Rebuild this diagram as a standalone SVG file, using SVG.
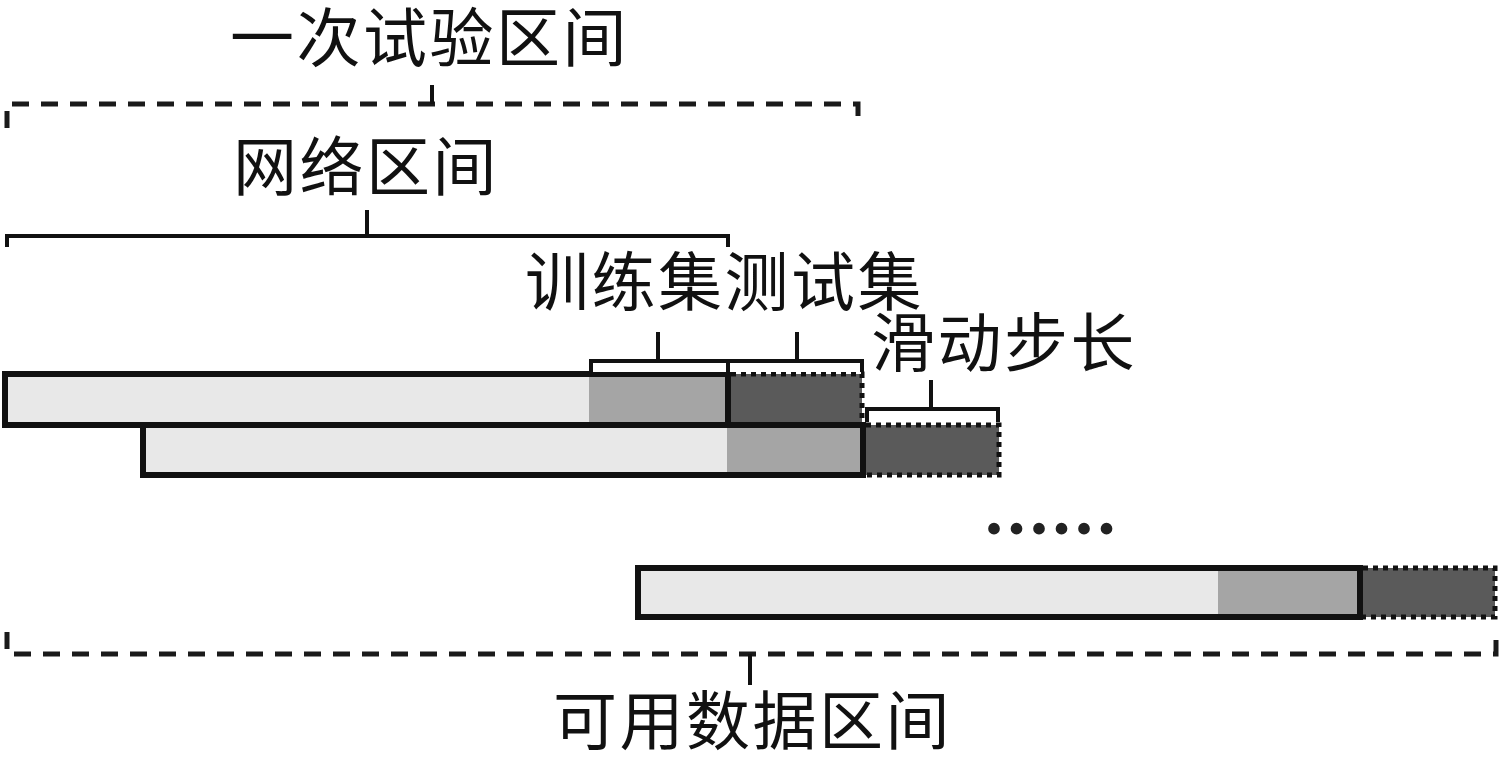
<svg xmlns="http://www.w3.org/2000/svg" width="1499" height="757" viewBox="0 0 1499 757">
<style>
.lbl{font-family:"Noto Sans CJK SC","Noto Sans",sans-serif;font-size:64px;fill:#111;letter-spacing:2.5px}
.light{fill:#e8e8e8}
.mid{fill:#a5a5a5}
.dark{fill:#5a5a5a}
.solid{fill:none;stroke:#111;stroke-width:6}
.dotted{fill:none;stroke:#111;stroke-width:5;stroke-dasharray:5 5}
.br{fill:none;stroke:#111;stroke-width:4}
.dash{fill:none;stroke:#1a1a1a;stroke-width:5;stroke-dasharray:17 12}
</style>
<rect width="1499" height="757" fill="#fff"/>
<g id="labels">
<text id="t-trial" class="lbl" x="230" y="61">一次试验区间</text>
<text id="t-net" class="lbl" x="233" y="190">网络区间</text>
<text id="t-traintest" class="lbl" x="525" y="305">训练集测试集</text>
<text id="t-step" class="lbl" x="871" y="366">滑动步长</text>
<text id="t-avail" class="lbl" x="553" y="744">可用数据区间</text>
</g>
<g id="bar1">
<rect class="light" x="5" y="374" width="584" height="51"/>
<rect class="mid" x="589" y="374" width="139" height="51"/>
<rect class="dark" x="728" y="374" width="134" height="51"/>
<path class="solid" d="M731,374 H5 V425 H862 M728,374 V425"/>
<path class="dotted" d="M731,374 H862 V425"/>
</g>
<g id="bar2">
<rect class="light" x="143" y="428" width="584" height="47"/>
<rect class="mid" x="727" y="428" width="136" height="47"/>
<rect class="solid" x="143" y="425" width="720" height="50"/>
</g>
<g id="step-box">
<rect class="dark" x="866" y="425" width="133" height="50"/>
<path class="dotted" d="M866,425 H999 V475 H866"/>
</g>
<g id="bar3">
<rect class="light" x="638" y="568" width="580" height="49"/>
<rect class="mid" x="1218" y="568" width="142" height="49"/>
<rect class="dark" x="1360" y="568" width="135" height="49"/>
<path class="solid" d="M1360,568 H638 V617 H1360 Z"/>
<path class="dotted" d="M1363,568 H1495 V617 H1363"/>
</g>
<g id="ellipsis">
<text x="985" y="534" style="font-family:'Liberation Serif',serif;font-size:72px;font-weight:bold;fill:#222;letter-spacing:4.5px">......</text>
</g>
<g id="connectors">
<path class="dash" d="M7,128 V104 H858 V125"/>
<path class="br" d="M432,104 V85"/>
<path class="br" d="M7,247 V236 H728 V247 M367,236 V210"/>
<rect x="589" y="361" width="273" height="11" fill="#fff"/>
<path class="br" d="M591,372 V361 H862 V372 M728,361 V372 M658,361 V332 M797,361 V332"/>
<rect x="866" y="409" width="133" height="13" fill="#fff"/>
<path class="br" d="M867,422 V409 H998 V422 M931,409 V380"/>
<path class="dash" d="M7,632 V654 H1496 V640"/>
<path class="br" d="M750,654 V685"/>
</g>
</svg>
